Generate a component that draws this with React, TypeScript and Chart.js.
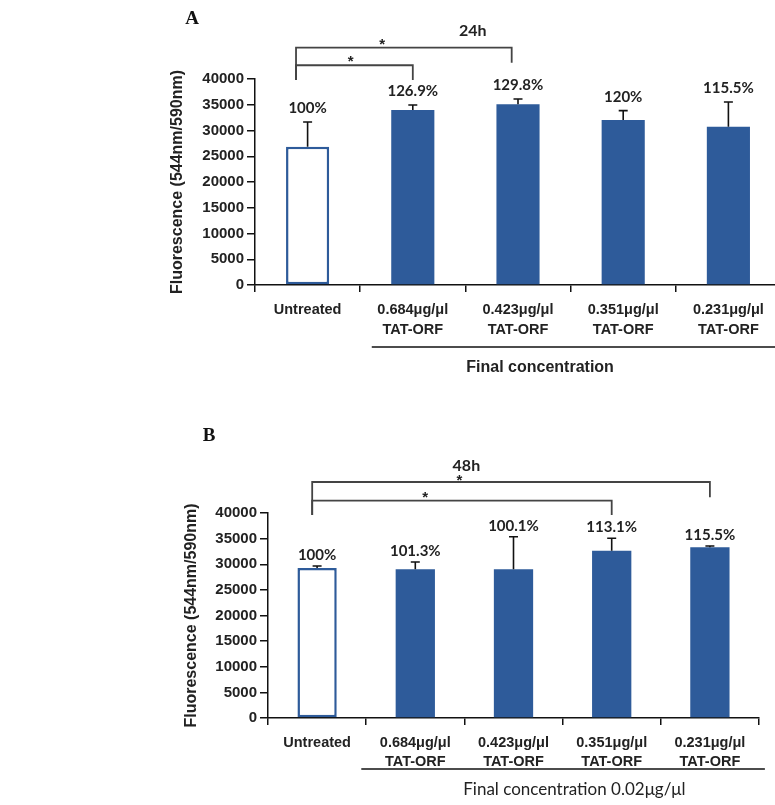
import React, { useEffect, useRef } from 'react';
import { Chart, registerables } from 'chart.js';

Chart.register(...registerables);

// ---------- data ----------
const categories: string[][] = [
  ['Untreated'],
  ['0.684μg/μl', 'TAT-ORF'],
  ['0.423μg/μl', 'TAT-ORF'],
  ['0.351μg/μl', 'TAT-ORF'],
  ['0.231μg/μl', 'TAT-ORF'],
];

const yMin = 0;
const yMax = 40000;
const yStep = 5000;

const means24h = [26850, 33980, 35090, 32040, 30740];
const sd24h = [4800, 970, 1030, 1810, 4790];
const pct24h = ['100%', '126.9%', '129.8%', '120%', '115.5%'];

const means48h = [29270, 29010, 29010, 32650, 33300];
const sd48h = [380, 1430, 6360, 2410, 260];
const pct48h = ['100%', '101.3%', '100.1%', '113.1%', '115.5%'];

const yTitle = 'Fluorescence (544nm/590nm)';

// ---------- styling ----------
const BLUE = '#2E5B9A';
const INK = '#222222';
const AXIS = '#111111';

type Bracket = { x0: number; x1: number; top: number; end0: number; end1: number; starX: number; starY: number };

type PanelCfg = {
  letter: string;
  letterX: number;
  letterY: number;
  time: string;
  timeX: number;
  timeY: number;
  means: number[];
  sds: number[];
  pcts: string[];
  brackets: Bracket[];
  footer: string;
  footerFont: string;
  footerX: number;
  footerDy: number;
  lineX0: number;
  lineX1: number;
  lineDy: number;
  labelGap: number;
  barPct: number;
  height: number;
  top: number;
  padTop: number;
  padLeft: number;
  padRight: number;
  yAxisW: number;
  xAxisH: number;
  titlePad: number;
  tickLineH: number;
};

const panelA: PanelCfg = {
  letter: 'A', letterX: 192, letterY: 19,
  time: '24h', timeX: 1.57, timeY: 49390,
  means: means24h, sds: sd24h, pcts: pct24h,
  brackets: [
    { x0: -0.11, x1: 1.0, top: 42670, end0: 39810, end1: 39810, starX: 0.41, starY: 44140 },
    { x0: -0.11, x1: 1.94, top: 46080, end0: 39810, end1: 43170, starX: 0.71, starY: 47580 },
  ],
  footer: 'Final concentration',
  footerFont: 'bold 16px "Liberation Sans"',
  footerX: 2.21, footerDy: 83,
  lineX0: 0.61, lineX1: 4.46, lineDy: 62,
  labelGap: 14,
  barPct: 0.41,
  height: 400, top: 0,
  padTop: 79, padLeft: 160, padRight: 19,
  yAxisW: 95, xAxisH: 115, titlePad: 8,
  tickLineH: 20 / 14.5,
};

const panelB: PanelCfg = {
  letter: 'B', letterX: 209, letterY: 21,
  time: '48h', timeX: 1.52, timeY: 49170,
  means: means48h, sds: sd48h, pcts: pct48h,
  brackets: [
    { x0: -0.05, x1: 3.0, top: 42400, end0: 39600, end1: 39600, starX: 1.1, starY: 43900 },
    { x0: -0.05, x1: 4.0, top: 46050, end0: 39600, end1: 43060, starX: 1.45, starY: 47210 },
  ],
  footer: 'Final concentration 0.02μg/μl',
  footerFont: '17px Lato',
  footerX: 2.62, footerDy: 71.5,
  lineX0: 0.45, lineX1: 4.56, lineDy: 51,
  labelGap: 11,
  barPct: 0.4,
  height: 390, top: 415,
  padTop: 98, padLeft: 172, padRight: 41,
  yAxisW: 96, xAxisH: 87, titlePad: 10,
  tickLineH: 19.5 / 14.5,
};

function makePlugin(cfg: PanelCfg) {
  return {
    id: 'annot',
    afterDatasetsDraw(chart: any) {
      const { ctx } = chart;
      const xs = chart.scales.x;
      const ys = chart.scales.y;
      const meta = chart.getDatasetMeta(0);
      ctx.save();
      // error bars + percentage labels
      cfg.means.forEach((m, i) => {
        const bar = meta.data[i];
        const px = bar.x;
        const yM = ys.getPixelForValue(m);
        const yT = ys.getPixelForValue(m + cfg.sds[i]);
        ctx.strokeStyle = AXIS;
        ctx.lineWidth = 1.6;
        ctx.beginPath();
        ctx.moveTo(px, yM);
        ctx.lineTo(px, yT);
        ctx.moveTo(px - 4.5, yT);
        ctx.lineTo(px + 4.5, yT);
        ctx.stroke();
        ctx.fillStyle = INK;
        ctx.font = 'bold 15px Lato';
        ctx.textAlign = 'center';
        ctx.textBaseline = 'middle';
        ctx.fillText(cfg.pcts[i], px, yT - cfg.labelGap);
      });
      // significance brackets
      ctx.strokeStyle = '#444';
      ctx.lineWidth = 1.8;
      cfg.brackets.forEach((b) => {
        const x0 = xs.getPixelForValue(b.x0);
        const x1 = xs.getPixelForValue(b.x1);
        const yt = ys.getPixelForValue(b.top);
        ctx.beginPath();
        ctx.moveTo(x0, ys.getPixelForValue(b.end0));
        ctx.lineTo(x0, yt);
        ctx.lineTo(x1, yt);
        ctx.lineTo(x1, ys.getPixelForValue(b.end1));
        ctx.stroke();
        const sz = 15;
        ctx.fillStyle = INK;
        ctx.font = `bold ${sz}px "Liberation Sans"`;
        ctx.textAlign = 'center';
        ctx.textBaseline = 'alphabetic';
        ctx.fillText('*', xs.getPixelForValue(b.starX), ys.getPixelForValue(b.starY) + 0.58 * sz);
      });
      // time label
      ctx.fillStyle = INK;
      ctx.font = 'bold 16px Lato';
      ctx.textAlign = 'center';
      ctx.textBaseline = 'middle';
      ctx.fillText(cfg.time, xs.getPixelForValue(cfg.timeX), ys.getPixelForValue(cfg.timeY));
      // panel letter
      ctx.font = 'bold 19px "Liberation Serif"';
      ctx.fillStyle = '#111';
      ctx.fillText(cfg.letter, cfg.letterX, cfg.letterY);
      // footer line + text
      const bottom = chart.chartArea.bottom;
      ctx.strokeStyle = AXIS;
      ctx.lineWidth = 1.5;
      ctx.beginPath();
      ctx.moveTo(xs.getPixelForValue(cfg.lineX0), bottom + cfg.lineDy);
      ctx.lineTo(xs.getPixelForValue(cfg.lineX1), bottom + cfg.lineDy);
      ctx.stroke();
      ctx.fillStyle = INK;
      ctx.font = cfg.footerFont;
      ctx.fillText(cfg.footer, xs.getPixelForValue(cfg.footerX), bottom + cfg.footerDy);
      ctx.restore();
    },
  };
}

function buildConfig(cfg: PanelCfg): any {
  return {
    type: 'bar',
    data: {
      labels: categories,
      datasets: [
        {
          data: cfg.means,
          backgroundColor: cfg.means.map((_, i) => (i === 0 ? '#ffffff' : BLUE)),
          borderColor: BLUE,
          borderWidth: cfg.means.map((_, i) => (i === 0 ? 2.5 : 0)),
          borderSkipped: false,
          barPercentage: cfg.barPct,
          categoryPercentage: 1,
        },
      ],
    },
    options: {
      responsive: false,
      animation: false,
      devicePixelRatio: 1,
      layout: { padding: { top: cfg.padTop, left: cfg.padLeft, right: cfg.padRight, bottom: 0 } },
      plugins: { legend: { display: false }, tooltip: { enabled: false }, title: { display: false } },
      scales: {
        x: {
          offset: true,
          grid: { display: true, offset: true, drawOnChartArea: false, drawTicks: true, tickLength: 7, color: AXIS, lineWidth: 1.5 },
          border: { display: true, color: AXIS, width: 1.5 },
          ticks: {
            color: INK,
            autoSkip: false,
            maxRotation: 0,
            padding: 8,
            font: { family: '"Liberation Sans"', size: 14.5, weight: 'bold', lineHeight: cfg.tickLineH },
          },
          afterFit: (s: any) => {
            s.height = cfg.xAxisH;
          },
        },
        y: {
          min: yMin,
          max: yMax,
          grid: { display: true, drawOnChartArea: false, drawTicks: true, tickLength: 8, color: AXIS, lineWidth: 1.5 },
          border: { display: true, color: AXIS, width: 1.5 },
          ticks: {
            stepSize: yStep,
            color: INK,
            padding: 3,
            font: { family: '"Liberation Sans"', size: 15, weight: 'bold' },
            callback: (v: any) => String(v),
          },
          title: {
            display: true,
            text: yTitle,
            color: INK,
            font: { family: '"Liberation Sans"', size: 16, weight: 'bold' },
            padding: { top: cfg.titlePad, bottom: 0 },
          },
          afterFit: (s: any) => {
            s.width = cfg.yAxisW;
          },
        },
      },
    },
    plugins: [makePlugin(cfg)],
  };
}

function Panel({ cfg }: { cfg: PanelCfg }) {
  const ref = useRef<HTMLCanvasElement>(null);
  useEffect(() => {
    const chart = new Chart(ref.current as HTMLCanvasElement, buildConfig(cfg));
    return () => chart.destroy();
  }, [cfg]);
  return (
    <canvas
      ref={ref}
      width={800}
      height={cfg.height}
      style={{ position: 'absolute', left: 0, top: cfg.top, display: 'block', width: 800, height: cfg.height }}
    />
  );
}

export default function App() {
  return (
    <div
      style={{
        position: 'absolute',
        left: 0,
        top: 0,
        width: 775,
        height: 805,
        overflow: 'hidden',
        background: '#ffffff',
      }}
    >
      <Panel cfg={panelA} />
      <Panel cfg={panelB} />
    </div>
  );
}
